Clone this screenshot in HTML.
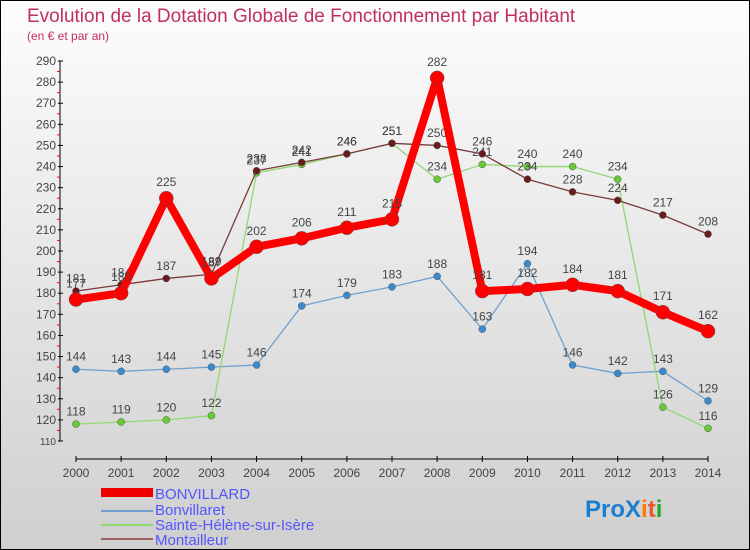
<!DOCTYPE html>
<html><head><meta charset="utf-8"><style>
body{margin:0}
#c{width:750px;height:550px;position:relative;overflow:hidden;box-sizing:border-box;border:1px solid #000;background:linear-gradient(#fdfdfd,#cfcfcf);font-family:"Liberation Sans",sans-serif}
</style></head><body>
<div id="c">
<svg id="s" width="750" height="550" style="position:absolute;left:0;top:0">
<text x="26" y="21" font-size="19" fill="#c0305a">Evolution de la Dotation Globale de Fonctionnement par Habitant</text>
<text x="26" y="39" font-size="12" fill="#c0305a">(en € et par an)</text>
<g id="axes"></g><g id="series"></g>
<g>
<rect x="100" y="487" width="52" height="9" fill="#e00"/>
<text x="154" y="498" font-size="15" fill="#55f">BONVILLARD</text>
<rect x="100" y="509" width="52" height="2" fill="#6fa0d0"/>
<text x="154" y="514" font-size="15" fill="#55f">Bonvillaret</text>
<rect x="100" y="523" width="52" height="2" fill="#8fd870"/>
<text x="154" y="529" font-size="15" fill="#55f">Sainte-Hélène-sur-Isère</text>
<rect x="100" y="537" width="52" height="2" fill="#a06060"/>
<text x="154" y="544" font-size="15" fill="#55f">Montailleur</text>
</g>
<g font-size="24" font-weight="bold">
<text x="584" y="516"><tspan fill="#1a7fd0">Pro</tspan><tspan fill="#1a7fd0">X</tspan><tspan fill="#ff7a00">i</tspan><tspan fill="#e53">t</tspan><tspan fill="#2a2">i</tspan></text>
</g>
</svg>
</div>
<script>
const years=[2000,2001,2002,2003,2004,2005,2006,2007,2008,2009,2010,2011,2012,2013,2014];
const yTicks=[110,120,130,140,150,160,170,180,190,200,210,220,230,240,250,260,270,280,290];
const bonvillard=[177,180,225,187,202,206,211,215,282,181,182,184,181,171,162];
const bonvillaret=[144,143,144,145,146,174,179,183,188,163,194,146,142,143,129];
const sainteHelene=[118,119,120,122,237,241,246,251,234,241,240,240,234,126,116];
const montailleur=[181,184,187,189,238,242,246,251,250,246,234,228,224,217,208];
const NS='http://www.w3.org/2000/svg';
function X(i){return 75+i*(707-75)/(years.length-1);}
function Y(v){return 440-(v-110)*(380/180);}
function mk(t,a,p){const e=document.createElementNS(NS,t);for(const k in a)e.setAttribute(k,a[k]);p.appendChild(e);return e;}
const ax=document.getElementById('axes');
let l=mk('line',{x1:59,y1:Y(290),x2:59,y2:440,stroke:'#000'},ax);


yTicks.forEach(v=>{
 mk('line',{x1:57,x2:62,y1:Y(v),y2:Y(v),stroke:'#000'},ax);
 if(v<290)mk('line',{x1:56,x2:59,y1:Y(v+5),y2:Y(v+5),stroke:'#f00'},ax);
 const t=mk('text',{x:55,y:Y(v)+4,'text-anchor':'end','font-size':v==110?'10':'12',fill:'#444'},ax);
 t.textContent=v;
 
 
});
l=mk('line',{x1:75,y1:458,x2:707,y2:458,stroke:'#000'},ax);


years.forEach((y,i)=>{
 mk('line',{x1:X(i),x2:X(i),y1:455,y2:461,stroke:'#000'},ax);
 const t=mk('text',{x:X(i),y:476,'text-anchor':'middle','font-size':12,fill:'#444'},ax);
 t.textContent=y;
 
 
});
const sg=document.getElementById('series');
function draw(vals,name,color,dot,w,r){
 const g=mk('g',{},sg);
 
 
 const p=mk('polyline',{points:vals.map((v,i)=>X(i)+','+Y(v)).join(' '),fill:'none',stroke:color,'stroke-width':w,'stroke-linejoin':'round'},g);
 
 
 vals.forEach((v,i)=>{
  const c=mk('circle',{cx:X(i),cy:Y(v),r:r,fill:dot,stroke:'#555','stroke-width':0.5},g);
  
  
  const t=mk('text',{x:X(i),y:Y(v)-r-5,'text-anchor':'middle','font-size':12,fill:'#444'},g);
  t.textContent=v;
  
  
 });
}
draw(bonvillaret,'bonvillaret','#6fa0d0','#3a8ad0',1.3,3.5);
draw(sainteHelene,'sainte-helene','#8fd870','#6c3',1.3,3.5);
draw(montailleur,'montailleur','#7a3a3a','#6a1a1a',1.3,3.5);
draw(bonvillard,'bonvillard','#f00','#f00',8,7);
</script>
</body></html>
